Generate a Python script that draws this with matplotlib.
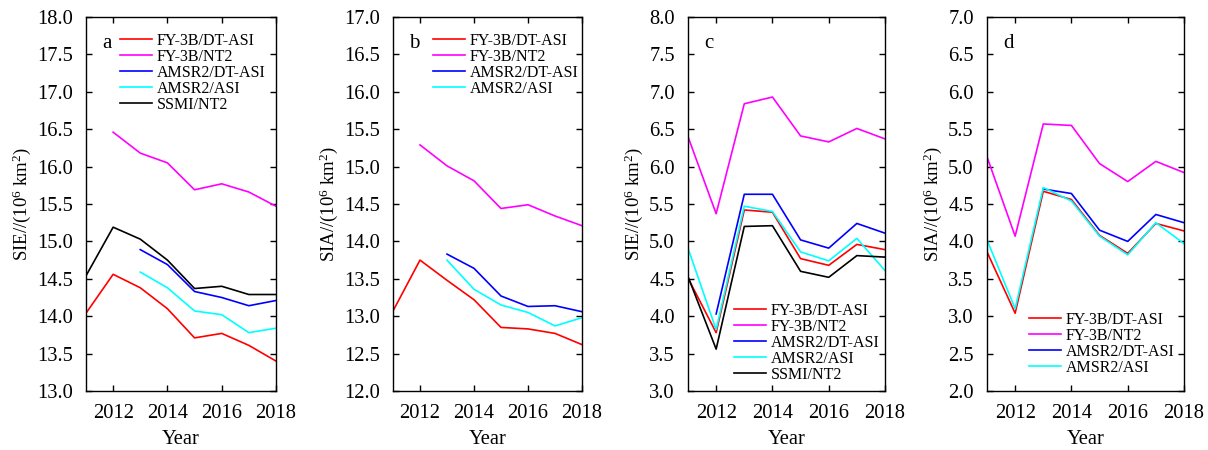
import matplotlib
matplotlib.use("Agg")
import matplotlib.pyplot as plt
import numpy as np

plt.rcParams['font.family'] = ['Liberation Serif', 'DejaVu Serif']
plt.rcParams['mathtext.fontset'] = 'custom'
plt.rcParams['mathtext.rm'] = 'Liberation Serif'
plt.rcParams['mathtext.it'] = 'Liberation Serif:italic'

years = [2011, 2012, 2013, 2014, 2015, 2016, 2017, 2018]
series_names = ['FY-3B/DT-ASI', 'FY-3B/NT2', 'AMSR2/DT-ASI', 'AMSR2/ASI', 'SSMI/NT2']
series_colors = ['#ff0000', '#ff00ff', '#0000ff', '#00ffff', '#000000']

# (a) sea ice extent, panel a
a_fy3b_dtasi = [14.04, 14.56, 14.38, 14.10, 13.71, 13.77, 13.61, 13.40]
a_fy3b_nt2 = [None, 16.46, 16.18, 16.05, 15.69, 15.77, 15.66, 15.47]
a_amsr2_dtasi = [None, None, 14.89, 14.69, 14.33, 14.25, 14.14, 14.21]
a_amsr2_asi = [None, None, 14.59, 14.38, 14.07, 14.02, 13.78, 13.84]
a_ssmi_nt2 = [14.54, 15.19, 15.03, 14.75, 14.37, 14.40, 14.29, 14.29]

# (b) sea ice area, panel b
b_fy3b_dtasi = [13.07, 13.75, 13.48, 13.22, 12.85, 12.83, 12.77, 12.62]
b_fy3b_nt2 = [None, 15.29, 15.01, 14.81, 14.44, 14.49, 14.34, 14.21]
b_amsr2_dtasi = [None, None, 13.83, 13.64, 13.27, 13.13, 13.14, 13.06]
b_amsr2_asi = [None, None, 13.75, 13.36, 13.15, 13.05, 12.87, 12.98]

# (c) sea ice extent, panel c
c_fy3b_dtasi = [4.51, 3.78, 5.42, 5.39, 4.77, 4.68, 4.96, 4.89]
c_fy3b_nt2 = [6.40, 5.37, 6.84, 6.93, 6.41, 6.33, 6.51, 6.37]
c_amsr2_dtasi = [None, 4.03, 5.63, 5.63, 5.02, 4.91, 5.24, 5.11]
c_amsr2_asi = [4.91, 3.82, 5.47, 5.40, 4.86, 4.74, 5.04, 4.61]
c_ssmi_nt2 = [4.53, 3.56, 5.20, 5.21, 4.60, 4.52, 4.81, 4.79]

# (d) sea ice area, panel d
d_fy3b_dtasi = [3.86, 3.04, 4.67, 4.56, 4.08, 3.84, 4.24, 4.14]
d_fy3b_nt2 = [5.13, 4.07, 5.57, 5.55, 5.04, 4.80, 5.07, 4.92]
d_amsr2_dtasi = [None, None, 4.70, 4.64, 4.15, 4.00, 4.36, 4.25]
d_amsr2_asi = [4.02, 3.10, 4.72, 4.54, 4.07, 3.82, 4.25, 3.97]

panels = [
    dict(tag='a', ylabel=r'SIE//(10$^{6}$ km$^{2}$)', ylim=(13.0, 18.0),
         data=[a_fy3b_dtasi, a_fy3b_nt2, a_amsr2_dtasi, a_amsr2_asi, a_ssmi_nt2],
         rect=[86, 17, 276, 391], leg=(0.179, 0.958)),
    dict(tag='b', ylabel=r'SIA//(10$^{6}$ km$^{2}$)', ylim=(12.0, 17.0),
         data=[b_fy3b_dtasi, b_fy3b_nt2, b_amsr2_dtasi, b_amsr2_asi],
         rect=[393, 17, 582, 391], leg=(0.212, 0.958)),
    dict(tag='c', ylabel=r'SIE//(10$^{6}$ km$^{2}$)', ylim=(3.0, 8.0),
         data=[c_fy3b_dtasi, c_fy3b_nt2, c_amsr2_dtasi, c_amsr2_asi, c_ssmi_nt2],
         rect=[688, 17, 885, 391], leg=(0.234, 0.236)),
    dict(tag='d', ylabel=r'SIA//(10$^{6}$ km$^{2}$)', ylim=(2.0, 7.0),
         data=[d_fy3b_dtasi, d_fy3b_nt2, d_amsr2_dtasi, d_amsr2_asi],
         rect=[987, 17, 1184, 391], leg=(0.213, 0.212)),
]

W, H = 1208, 450
fig = plt.figure(figsize=(W / 100, H / 100), dpi=100)

for p in panels:
    x0, y0, x1, y1 = p['rect']
    ax = fig.add_axes([x0 / W, 1 - y1 / H, (x1 - x0) / W, (y1 - y0) / H])
    for vals, name, col in zip(p['data'], series_names, series_colors):
        y = np.array([np.nan if v is None else v for v in vals], dtype=float)
        ax.plot(years, y, color=col, lw=1.2, label=name)
    ax.set_xlim(2011, 2018)
    ax.set_ylim(*p['ylim'])
    ax.set_xticks([2012, 2014, 2016, 2018])
    ax.set_yticks(np.arange(p['ylim'][0], p['ylim'][1] + 0.01, 0.5))
    ax.yaxis.set_major_formatter(matplotlib.ticker.FormatStrFormatter('%.1f'))
    ax.tick_params(direction='in', top=True, right=True, length=4, width=1,
                   labelsize=14.8, pad=9.5)
    for s in ax.spines.values():
        s.set_linewidth(1.0)
    ax.set_xlabel('Year', fontsize=14.8, labelpad=5)
    ax.set_ylabel(p['ylabel'], fontsize=13.5, labelpad=3)
    ax.text(0.085, 0.93, p['tag'], transform=ax.transAxes, fontsize=15,
            ha='left', va='center')
    ax.legend(loc='upper left', bbox_to_anchor=p['leg'], frameon=False,
              fontsize=11.5, handlelength=2.0, handletextpad=0.3,
              labelspacing=0.0, borderpad=0, borderaxespad=0)

fig.savefig('out.png', dpi=100)
